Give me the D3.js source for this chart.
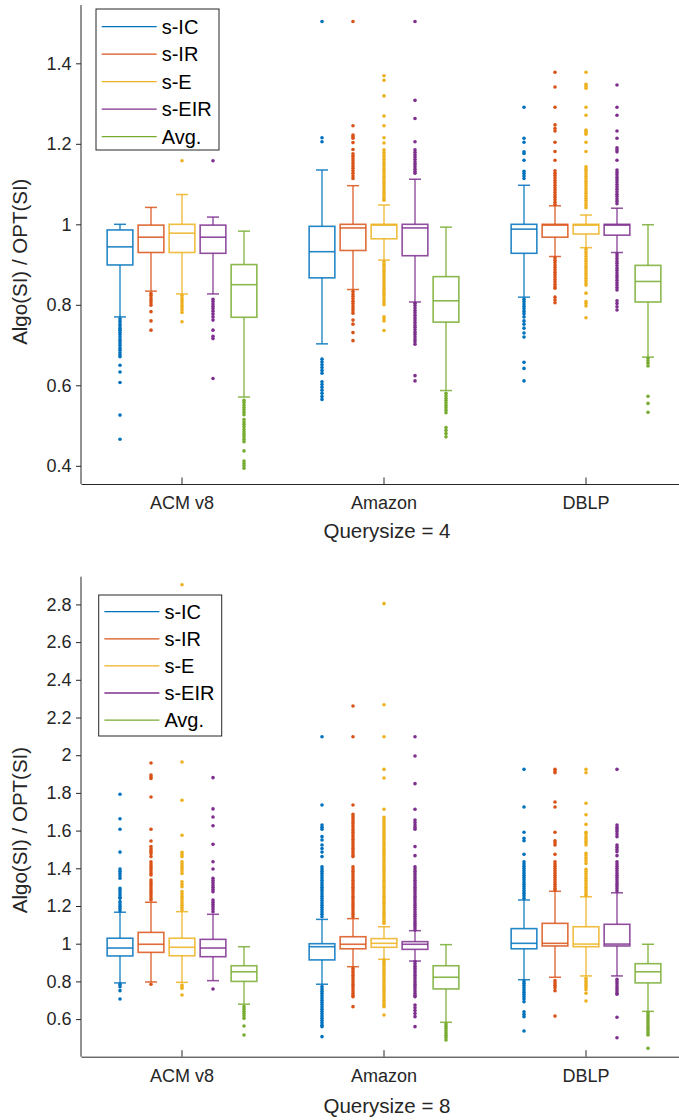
<!DOCTYPE html>
<html>
<head>
<meta charset="utf-8">
<script src="https://cdn.jsdelivr.net/npm/d3@7/dist/d3.min.js"></script>
<style>
  html, body { margin: 0; padding: 0; background: #fff; }
  svg { display: block; font-family: "Liberation Sans", Arial, Helvetica, sans-serif; }
</style>
</head>
<body>
<svg id="chart" width="679" height="1120"></svg>
<script>
// ---------------- DATA ----------------
const categories = ["ACM v8", "Amazon", "DBLP"];
const seriesNames = ["s-IC", "s-IR", "s-E", "s-EIR", "Avg."];

// Querysize = 4  (rows: categories, cols: series)
const q4Ticks = [0.4, 0.6, 0.8, 1, 1.2, 1.4];
const q4WhiskerLow  = [[0.770, 0.834, 0.827, 0.827, 0.571],
                       [0.703, 0.838, 0.911, 0.807, 0.587],
                       [0.819, 0.920, 0.942, 0.930, 0.670]];
const q4Q1          = [[0.899, 0.930, 0.930, 0.928, 0.769],
                       [0.867, 0.935, 0.964, 0.922, 0.757],
                       [0.928, 0.968, 0.976, 0.973, 0.807]];
const q4Median      = [[0.944, 0.968, 0.978, 0.968, 0.850],
                       [0.932, 0.991, 0.998, 0.991, 0.810],
                       [0.988, 0.998, 0.998, 0.998, 0.858]];
const q4Q3          = [[0.986, 0.998, 1.000, 0.998, 0.900],
                       [0.995, 1.000, 1.000, 1.000, 0.870],
                       [1.000, 1.000, 1.000, 1.000, 0.898]];
const q4WhiskerHigh = [[1.000, 1.042, 1.074, 1.018, 0.983],
                       [1.135, 1.096, 1.048, 1.112, 0.993],
                       [1.097, 1.046, 1.023, 1.040, 0.999]];
const q4Outliers = [
  [ // ACM v8
    [0.765,0.759,0.753,0.748,0.742,0.737,0.731,0.726,0.72,0.714,0.709,0.703,0.698,0.692,0.687,0.681,0.675,0.671,0.65,0.633,0.607,0.526,0.466],
    [0.828,0.823,0.817,0.811,0.805,0.799,0.783,0.760,0.737],
    [1.158,0.823,0.817,0.811,0.805,0.799,0.793,0.787,0.781,0.758],
    [1.158,0.814,0.808,0.802,0.796,0.79,0.784,0.777,0.77,0.762,0.737,0.722,0.716,0.617],
    [0.563,0.557,0.551,0.545,0.539,0.533,0.527,0.515,0.509,0.503,0.497,0.49,0.484,0.478,0.472,0.466,0.46,0.437,0.412,0.406,0.4,0.394]
  ],
  [ // Amazon
    [1.504,1.215,1.205,0.665,0.658,0.651,0.644,0.637,0.63,0.609,0.602,0.595,0.588,0.58,0.572,0.565],
    [1.504,1.245,1.222,1.218,1.214,1.203,1.186,1.175,1.169,1.163,1.157,1.151,1.145,1.139,1.133,1.127,1.12,1.114,
     0.833,0.827,0.821,0.815,0.809,0.803,0.797,0.791,0.785,0.779,0.762,0.752,0.731,0.711],
    [1.369,1.358,1.319,1.269,1.245,1.215,1.202,1.185,1.179,1.173,1.167,1.161,1.155,1.149,1.143,1.137,1.131,1.125,1.119,1.113,1.107,1.101,1.095,1.089,1.083,1.077,1.071,1.065,1.06,
     0.907,0.901,0.895,0.889,0.883,0.877,0.871,0.865,0.859,0.853,0.847,0.841,0.835,0.829,0.823,0.817,0.811,0.805,0.80,0.770,0.765,0.76,0.736],
    [1.504,1.308,1.263,1.205,1.185,1.179,1.173,1.167,1.161,1.155,1.149,1.143,1.137,1.131,1.127,
     0.804,0.798,0.792,0.786,0.78,0.774,0.768,0.762,0.756,0.75,0.744,0.738,0.732,0.726,0.72,0.714,0.708,0.702,0.624,0.611],
    [0.58,0.574,0.568,0.562,0.556,0.55,0.544,0.538,0.532,0.495,0.488,0.48,0.472]
  ],
  [ // DBLP
    [1.291,1.214,1.204,1.18,1.176,1.159,1.132,1.126,1.12,1.114,
     0.814,0.808,0.802,0.796,0.79,0.784,0.778,0.77,0.76,0.752,0.742,0.73,0.72,0.657,0.642,0.611],
    [1.378,1.341,1.291,1.247,1.238,1.232,1.204,1.181,1.159,1.133,1.127,1.121,1.115,1.109,1.103,1.097,1.091,1.085,1.079,1.073,1.067,1.061,1.055,1.049,
     0.917,0.911,0.905,0.899,0.893,0.887,0.881,0.875,0.869,0.863,0.857,0.851,0.845,0.841,0.819,0.812,0.805],
    [1.378,1.348,1.343,1.338,1.291,1.271,1.234,1.229,1.224,1.204,1.181,1.143,1.137,1.131,1.125,1.119,1.113,1.107,1.101,1.095,1.089,1.083,1.077,1.071,1.065,1.059,1.053,1.047,1.041,
     0.938,0.932,0.926,0.92,0.914,0.908,0.902,0.896,0.89,0.884,0.878,0.872,0.866,0.86,0.854,0.849,0.829,0.808,0.803,0.797,0.768],
    [1.346,1.291,1.271,1.232,1.214,1.19,1.185,1.18,1.159,1.135,1.129,1.123,1.117,1.111,1.105,1.099,1.093,1.087,1.081,1.075,1.069,1.063,1.057,1.051,
     0.927,0.921,0.915,0.909,0.903,0.897,0.891,0.885,0.879,0.873,0.867,0.861,0.855,0.849,0.843,0.837,0.81,0.803,0.795,0.787],
    [0.667,0.661,0.655,0.648,0.573,0.555,0.533]
  ]
];

// Querysize = 8
const q8Ticks = [0.6, 0.8, 1, 1.2, 1.4, 1.6, 1.8, 2, 2.2, 2.4, 2.6, 2.8];
const q8WhiskerLow  = [[0.792, 0.797, 0.795, 0.804, 0.679],
                       [0.785, 0.878, 0.917, 0.908, 0.583],
                       [0.809, 0.822, 0.829, 0.829, 0.641]];
const q8Q1          = [[0.935, 0.954, 0.936, 0.931, 0.800],
                       [0.914, 0.973, 0.981, 0.970, 0.760],
                       [0.973, 0.988, 0.984, 0.988, 0.792]];
const q8Median      = [[0.977, 0.997, 0.981, 0.977, 0.851],
                       [0.984, 0.997, 1.002, 0.997, 0.822],
                       [1.002, 1.002, 0.998, 0.998, 0.851]];
const q8Q3          = [[1.029, 1.060, 1.029, 1.023, 0.883],
                       [1.000, 1.037, 1.027, 1.011, 0.883],
                       [1.080, 1.108, 1.090, 1.103, 0.894]];
const q8WhiskerHigh = [[1.167, 1.220, 1.170, 1.156, 0.984],
                       [1.129, 1.133, 1.090, 1.069, 0.995],
                       [1.232, 1.278, 1.249, 1.270, 0.997]];
const q8Outliers = [
  [ // ACM v8
    [1.793,1.663,1.607,1.486,1.396,1.384,1.372,1.36,1.347,1.294,1.282,1.27,1.258,1.246,1.241,1.223,1.211,1.199,1.187,1.175,0.785,0.772,0.751,0.707],
    [1.959,1.895,1.886,1.877,1.778,1.607,1.545,1.515,1.503,1.491,1.479,1.462,1.435,1.423,1.411,1.399,1.387,1.375,1.365,1.338,1.326,1.314,1.302,1.29,1.278,1.266,1.254,1.242,1.232,0.785],
    [2.904,1.964,1.761,1.575,1.485,1.473,1.462,1.435,1.423,1.411,1.399,1.387,1.373,1.329,1.315,1.302,1.276,1.264,1.252,1.24,1.228,1.216,1.204,1.192,1.18,0.781,0.772,0.763,0.728],
    [1.881,1.715,1.672,1.626,1.527,1.435,1.396,1.347,1.335,1.323,1.311,1.299,1.287,1.276,1.232,1.22,1.208,1.196,1.184,1.17,0.76],
    [0.666,0.654,0.642,0.63,0.618,0.604,0.563,0.516]
  ],
  [ // Amazon
    [2.098,1.736,1.63,1.618,1.607,1.568,1.55,1.524,1.505,1.486,1.462,1.408,1.396,1.384,1.372,1.36,1.348,1.336,1.324,1.312,1.3,1.288,1.276,1.264,1.252,1.24,1.228,1.216,1.204,1.192,1.18,1.168,1.156,1.143,
     0.772,0.76,0.748,0.736,0.724,0.712,0.7,0.688,0.676,0.664,0.652,0.64,0.628,0.616,0.604,0.592,0.58,0.568,0.56,0.507],
    [2.261,2.098,1.736,1.686,1.674,1.662,1.65,1.638,1.626,1.614,1.602,1.59,1.578,1.566,1.554,1.542,1.53,1.518,1.506,1.494,1.482,1.47,1.462,1.408,1.396,1.384,1.372,1.36,1.348,1.336,1.324,1.312,1.3,1.288,1.276,1.264,1.252,1.24,1.228,1.216,1.204,1.192,1.18,1.168,1.156,1.143,
     0.869,0.857,0.845,0.833,0.821,0.809,0.797,0.785,0.773,0.761,0.749,0.737,0.725,0.719,0.666],
    [2.804,2.268,2.098,1.925,1.879,1.713,1.671,1.659,1.647,1.635,1.623,1.611,1.599,1.587,1.575,1.563,1.551,1.539,1.527,1.515,1.503,1.491,1.479,1.467,1.455,1.443,1.431,1.419,1.407,1.395,1.383,1.371,1.359,1.347,1.335,1.323,1.311,1.299,1.287,1.275,1.263,1.251,1.239,1.227,1.215,1.203,1.191,1.179,1.167,1.155,1.143,1.131,1.119,1.108,
     0.914,0.902,0.89,0.878,0.866,0.854,0.842,0.83,0.818,0.806,0.794,0.782,0.77,0.758,0.746,0.734,0.722,0.71,0.698,0.686,0.674,0.666,0.622],
    [2.098,1.996,1.849,1.713,1.656,1.643,1.63,1.618,1.607,1.515,1.467,1.408,1.396,1.384,1.372,1.36,1.348,1.336,1.324,1.312,1.3,1.288,1.276,1.264,1.252,1.24,1.228,1.216,1.204,1.192,1.18,1.168,1.156,1.144,1.132,1.12,1.108,1.096,1.084,1.073,
     0.905,0.893,0.881,0.869,0.857,0.845,0.833,0.821,0.809,0.797,0.785,0.773,0.761,0.749,0.737,0.725,0.719,0.675,0.66,0.645,0.63,0.613,0.56],
    [0.574,0.562,0.55,0.538,0.526,0.514,0.502,0.489]
  ],
  [ // DBLP
    [1.925,1.725,1.591,1.559,1.546,1.474,1.435,1.423,1.411,1.399,1.387,1.375,1.363,1.351,1.339,1.327,1.315,1.303,1.291,1.279,1.267,1.255,1.241,
     0.802,0.79,0.778,0.766,0.754,0.742,0.73,0.718,0.706,0.692,0.639,0.626,0.613,0.537],
    [1.925,1.916,1.907,1.752,1.725,1.591,1.546,1.535,1.524,1.474,1.435,1.423,1.411,1.399,1.387,1.375,1.363,1.351,1.339,1.327,1.315,1.303,1.291,1.285,
     0.804,0.792,0.78,0.768,0.751,0.616],
    [1.925,1.907,1.745,1.684,1.633,1.591,1.582,1.568,1.556,1.545,1.535,1.524,1.48,1.467,1.453,1.44,1.426,1.395,1.383,1.371,1.359,1.347,1.335,1.323,1.311,1.299,1.287,1.275,1.263,1.255,
     0.816,0.804,0.792,0.78,0.768,0.756,0.737,0.696],
    [1.925,1.63,1.618,1.607,1.595,1.582,1.568,1.524,1.512,1.5,1.488,1.467,1.435,1.423,1.411,1.399,1.387,1.375,1.363,1.351,1.339,1.327,1.315,1.303,1.291,1.279,
     0.811,0.799,0.787,0.775,0.763,0.751,0.739,0.732,0.61,0.501],
    [0.634,0.622,0.61,0.598,0.586,0.574,0.562,0.55,0.538,0.526,0.516,0.445]
  ]
];

// ---------------- STYLE / LAYOUT ----------------
const colors = ["#0072BD", "#D95319", "#EDB120", "#7E2F8E", "#77AC30"];
const axisColor = "#262626";
const fontFamily = '"Liberation Sans", Arial, Helvetica, sans-serif';

const panels = [
  {
    title: "Querysize = 4", ticks: q4Ticks, low: q4WhiskerLow, q1: q4Q1, med: q4Median, q3: q4Q3, high: q4WhiskerHigh, out: q4Outliers,
    yDomain: [0.3548, 1.5449], top: 5, bottom: 484,
    yLabelY: 261.7, titleY: 538,
    legend: { x: 96, y: 9, w: 123, h: 141, row0: 26.7, rowStep: 27.5 }
  },
  {
    title: "Querysize = 8", ticks: q8Ticks, low: q8WhiskerLow, q1: q8Q1, med: q8Median, q3: q8Q3, high: q8WhiskerHigh, out: q8Outliers,
    yDomain: [0.4005, 2.947], top: 576.7, bottom: 1056.7,
    yLabelY: 830, titleY: 1113,
    legend: { x: 98.7, y: 595, w: 123, h: 141, row0: 611.7, rowStep: 27.1 }
  }
];

const svg = d3.select("#chart");
svg.append("rect").attr("width", 679).attr("height", 1120).attr("fill", "#fff");

const xLeft = 81, groupStep = 202;
const xGroup = d3.scaleBand().domain(categories).range([xLeft, xLeft + groupStep * categories.length]).padding(0);
const xSeries = d3.scaleBand().domain(seriesNames).range([-77.5, 77.5]).padding(0);
const boxW = 25.7, capW = 12;

panels.forEach(p => {
  const g = svg.append("g");
  const y = d3.scaleLinear().domain(p.yDomain).range([p.bottom, p.top]);

  // boxes
  categories.forEach((cat, ci) => {
    seriesNames.forEach((s, si) => {
      const cx = xGroup(cat) + xGroup.bandwidth() / 2 + xSeries(s) + xSeries.bandwidth() / 2;
      const col = colors[si];
      const bg = g.append("g");
      const lo = p.low[ci][si], q1 = p.q1[ci][si], md = p.med[ci][si], q3 = p.q3[ci][si], hi = p.high[ci][si];
      // whiskers
      bg.append("line").attr("x1", cx).attr("x2", cx).attr("y1", y(q3)).attr("y2", y(hi))
        .attr("stroke", col).attr("stroke-width", 1.2);
      bg.append("line").attr("x1", cx).attr("x2", cx).attr("y1", y(q1)).attr("y2", y(lo))
        .attr("stroke", col).attr("stroke-width", 1.2);
      [lo, hi].forEach(v => {
        bg.append("line").attr("x1", cx - capW / 2).attr("x2", cx + capW / 2).attr("y1", y(v)).attr("y2", y(v))
          .attr("stroke", col).attr("stroke-width", 1.5).attr("stroke-opacity", 0.85);
      });
      // box
      bg.append("rect").attr("x", cx - boxW / 2).attr("width", boxW)
        .attr("y", y(q3)).attr("height", Math.max(0.5, y(q1) - y(q3)))
        .attr("fill", "none").attr("stroke", col).attr("stroke-width", 1.6).attr("stroke-opacity", 0.85);
      bg.append("line").attr("x1", cx - boxW / 2).attr("x2", cx + boxW / 2).attr("y1", y(md)).attr("y2", y(md))
        .attr("stroke", col).attr("stroke-width", 1.6).attr("stroke-opacity", 0.85);
      // outliers
      bg.selectAll("circle").data(p.out[ci][si]).join("circle")
        .attr("cx", cx).attr("cy", d => y(d)).attr("r", 1.8).attr("fill", col);
    });
  });

  // y axis
  const yAxis = d3.axisLeft(y).tickValues(p.ticks).tickSize(5).tickPadding(4.5).tickFormat(d3.format("~g"));
  const ya = g.append("g").attr("transform", `translate(${xLeft},0)`).call(yAxis);
  ya.select(".domain").attr("stroke", axisColor).attr("d", `M0,${p.top}V${p.bottom}`);
  ya.selectAll(".tick line").attr("stroke", axisColor);
  ya.selectAll(".tick text").attr("fill", axisColor).style("font-size", "18px").style("font-family", fontFamily);

  // x axis
  const xAxis = d3.axisBottom(xGroup).tickSizeInner(-6.5).tickSizeOuter(0).tickPadding(12.5);
  const xa = g.append("g").attr("transform", `translate(0,${p.bottom})`).call(xAxis);
  xa.select(".domain").attr("stroke", axisColor);
  xa.selectAll(".tick line").attr("stroke", axisColor);
  xa.selectAll(".tick text").attr("fill", axisColor).style("font-size", "18px").style("font-family", fontFamily);

  // labels
  g.append("text").attr("transform", `translate(27,${p.yLabelY}) rotate(-90)`)
    .attr("text-anchor", "middle").attr("fill", axisColor)
    .style("font-size", "20.5px").style("font-family", fontFamily).text("Algo(SI) / OPT(SI)");
  g.append("text").attr("x", 387).attr("y", p.titleY).attr("text-anchor", "middle").attr("fill", axisColor)
    .style("font-size", "20.5px").style("font-family", fontFamily).text(p.title);

  // legend
  const L = p.legend;
  const lg = g.append("g");
  lg.append("rect").attr("x", L.x).attr("y", L.y).attr("width", L.w).attr("height", L.h)
    .attr("fill", "#fff").attr("stroke", axisColor).attr("stroke-width", 1);
  seriesNames.forEach((s, i) => {
    const ly = L.row0 + L.rowStep * i;
    lg.append("line").attr("x1", L.x + 5.7).attr("x2", L.x + 60.7).attr("y1", ly).attr("y2", ly)
      .attr("stroke", colors[i]).attr("stroke-width", 1.3);
    lg.append("text").attr("x", L.x + 65.7).attr("y", ly).attr("dy", "0.36em").attr("fill", "#000")
      .style("font-size", "20px").style("font-family", fontFamily).text(s);
  });
});
</script>
</body>
</html>
